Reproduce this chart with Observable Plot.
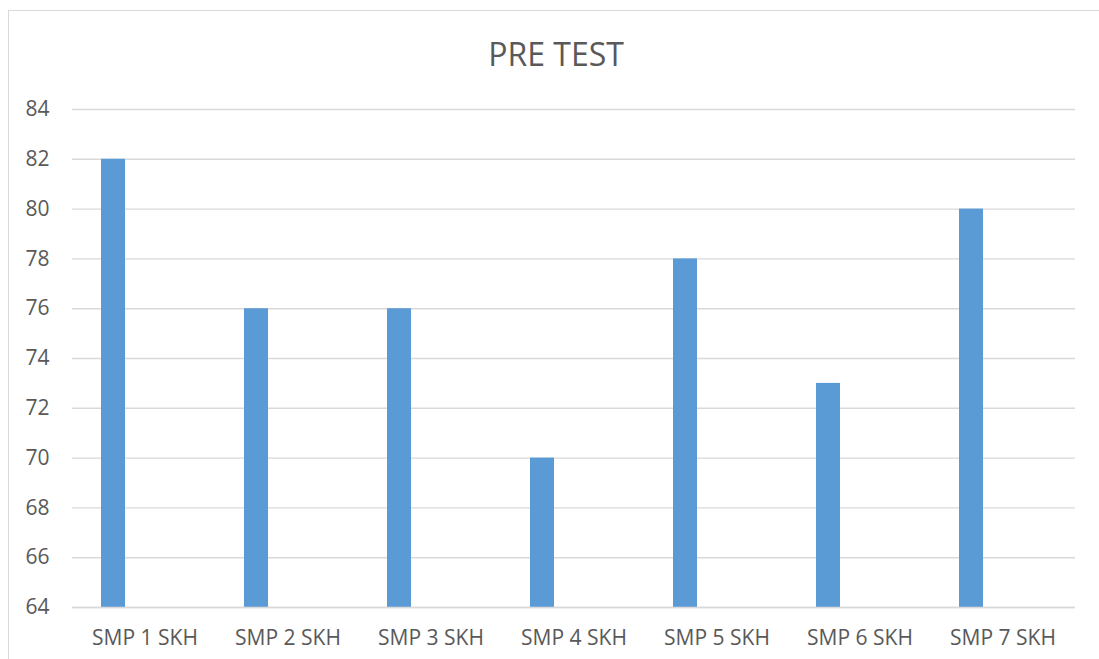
<!DOCTYPE html>
<html>
<head>
<meta charset="utf-8">
<script src="https://cdn.jsdelivr.net/npm/d3@7"></script>
<script src="https://cdn.jsdelivr.net/npm/@observablehq/plot@0.6"></script>
<style>
  html, body { margin: 0; padding: 0; background: #fff; overflow: hidden; width: 1099px; height: 659px; }
  #frame { position: absolute; left: 8px; top: 10px; width: 1200px; height: 800px; border: 1px solid #d9d9d9; box-sizing: border-box; z-index: 2; pointer-events: none; }
  #title { position: absolute; left: 0; top: 38px; width: 1112px; text-align: center; font-family: "Open Sans", sans-serif; font-size: 32px; color: #595959; line-height: 1; }
  #chart { position: absolute; left: 0; top: 80px; }
  #chart svg { font-family: "Open Sans", sans-serif; }
</style>
</head>
<body>
<div id="frame"></div>
<div id="title">PRE TEST</div>
<div id="chart"></div>
<script>
const categories = ["SMP 1 SKH", "SMP 2 SKH", "SMP 3 SKH", "SMP 4 SKH", "SMP 5 SKH", "SMP 6 SKH", "SMP 7 SKH"];
const values = [82, 76, 76, 70, 78, 73, 80];
const yTicks = [64, 66, 68, 70, 72, 74, 76, 78, 80, 82, 84];

const data = categories.map((c, i) => ({category: c, value: values[i]}));

const plot = Plot.plot({
  width: 1099,
  height: 579,
  marginTop: 29,
  marginBottom: 52,
  marginLeft: 72,
  marginRight: 24,
  style: {fontSize: "21px", color: "#595959", fontFamily: "'Open Sans', sans-serif", background: "transparent"},
  x: {domain: categories, padding: 0, label: null, tickSize: 0, tickPadding: 23},
  y: {domain: [yTicks[0], yTicks[yTicks.length - 1]], ticks: yTicks, label: null, tickSize: 0, tickPadding: 23, clamp: true},
  marks: [
    Plot.gridY(yTicks, {stroke: "#d9d9d9", strokeOpacity: 1, strokeWidth: 1.4}),
    Plot.barY(data, {x: "category", y: "value", fill: "#5b9bd5", insetLeft: 28, insetRight: 91}),
    Plot.ruleY([yTicks[0]], {stroke: "#d9d9d9", strokeWidth: 1.6})
  ]
});
document.getElementById("chart").appendChild(plot);
</script>
</body>
</html>
